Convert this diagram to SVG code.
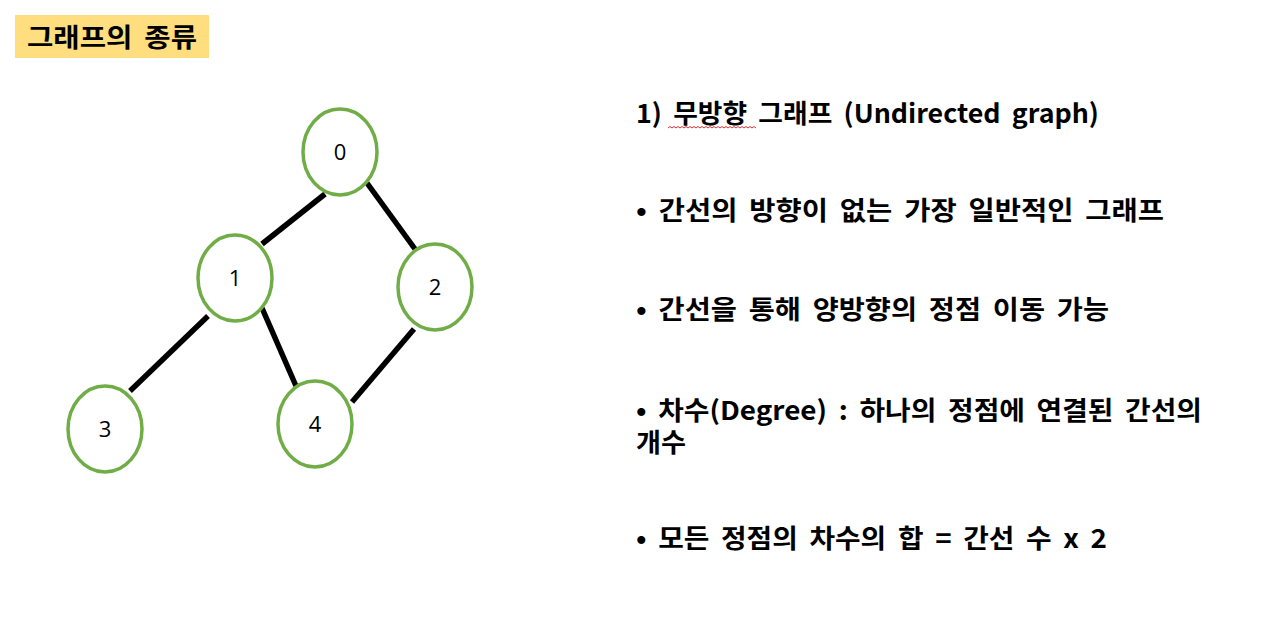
<svg xmlns="http://www.w3.org/2000/svg" width="1286" height="637" viewBox="0 0 1286 637">
<style>
.node ellipse{fill:#fff;stroke:#70AD47;stroke-width:3.5}
.node text{font-family:"Open Sans","Noto Sans",sans-serif;font-size:22px;fill:#000;text-anchor:middle}
.edge{stroke:#000;stroke-width:5.5;stroke-linecap:butt}
.t{font-family:"Noto Sans CJK KR","Noto Sans",sans-serif;font-weight:bold;font-size:26px;word-spacing:5px;fill:#000}
</style>
<rect width="1286" height="637" fill="#fff"/>
<g id="title">
<rect x="15" y="15" width="194" height="43" fill="#FFDE80"/>
<text class="t" x="27" y="47" textLength="170" lengthAdjust="spacingAndGlyphs">그래프의 종류</text>
</g>
<g id="connectors">
<line class="edge" x1="325" y1="194" x2="262" y2="244"/>
<line class="edge" x1="367" y1="183" x2="415" y2="249"/>
<line class="edge" x1="208" y1="316" x2="130" y2="391"/>
<line class="edge" x1="262" y1="308" x2="296" y2="386"/>
<line class="edge" x1="414" y1="329" x2="352" y2="402"/>
</g>
<g id="node0" class="node"><ellipse cx="340" cy="152" rx="37" ry="43"/><text x="340" y="160">0</text></g>
<g id="node1" class="node"><ellipse cx="235" cy="278" rx="37" ry="43"/><text x="235" y="286">1</text></g>
<g id="node2" class="node"><ellipse cx="435" cy="287" rx="37" ry="43"/><text x="435" y="295">2</text></g>
<g id="node3" class="node"><ellipse cx="105" cy="429" rx="37" ry="43"/><text x="105" y="437">3</text></g>
<g id="node4" class="node"><ellipse cx="315" cy="424" rx="37" ry="43"/><text x="315" y="432">4</text></g>
<g id="text">
<text class="t" x="636" y="123" textLength="463" lengthAdjust="spacingAndGlyphs">1) 무방향 그래프 (Undirected graph)</text>
<path d="M668,128 l2,-1.5 l2,1.5 l2,-1.5 l2,1.5 l2,-1.5 l2,1.5 l2,-1.5 l2,1.5 l2,-1.5 l2,1.5 l2,-1.5 l2,1.5 l2,-1.5 l2,1.5 l2,-1.5 l2,1.5 l2,-1.5 l2,1.5 l2,-1.5 l2,1.5 l2,-1.5 l2,1.5 l2,-1.5 l2,1.5 l2,-1.5 l2,1.5 l2,-1.5 l2,1.5 l2,-1.5 l2,1.5 l2,-1.5 l2,1.5 l2,-1.5 l2,1.5 l2,-1.5 l2,1.5 l2,-1.5 l2,1.5 l2,-1.5 l2,1.5 l2,-1.5 l2,1.5 l2,-1.5 l2,1.5" fill="none" stroke="#E03030" stroke-width="1"/>
<text class="t" x="636" y="220" textLength="528" lengthAdjust="spacingAndGlyphs">• 간선의 방향이 없는 가장 일반적인 그래프</text>
<text class="t" x="636" y="319" textLength="473" lengthAdjust="spacingAndGlyphs">• 간선을 통해 양방향의 정점 이동 가능</text>
<text class="t"><tspan x="636" y="420" textLength="566" lengthAdjust="spacingAndGlyphs">• 차수(Degree) : 하나의 정점에 연결된 간선의</tspan><tspan x="636" y="452" textLength="50" lengthAdjust="spacingAndGlyphs">개수</tspan></text>
<text class="t" x="636" y="548" textLength="471" lengthAdjust="spacingAndGlyphs">• 모든 정점의 차수의 합 = 간선 수 x 2</text>
</g>
</svg>
